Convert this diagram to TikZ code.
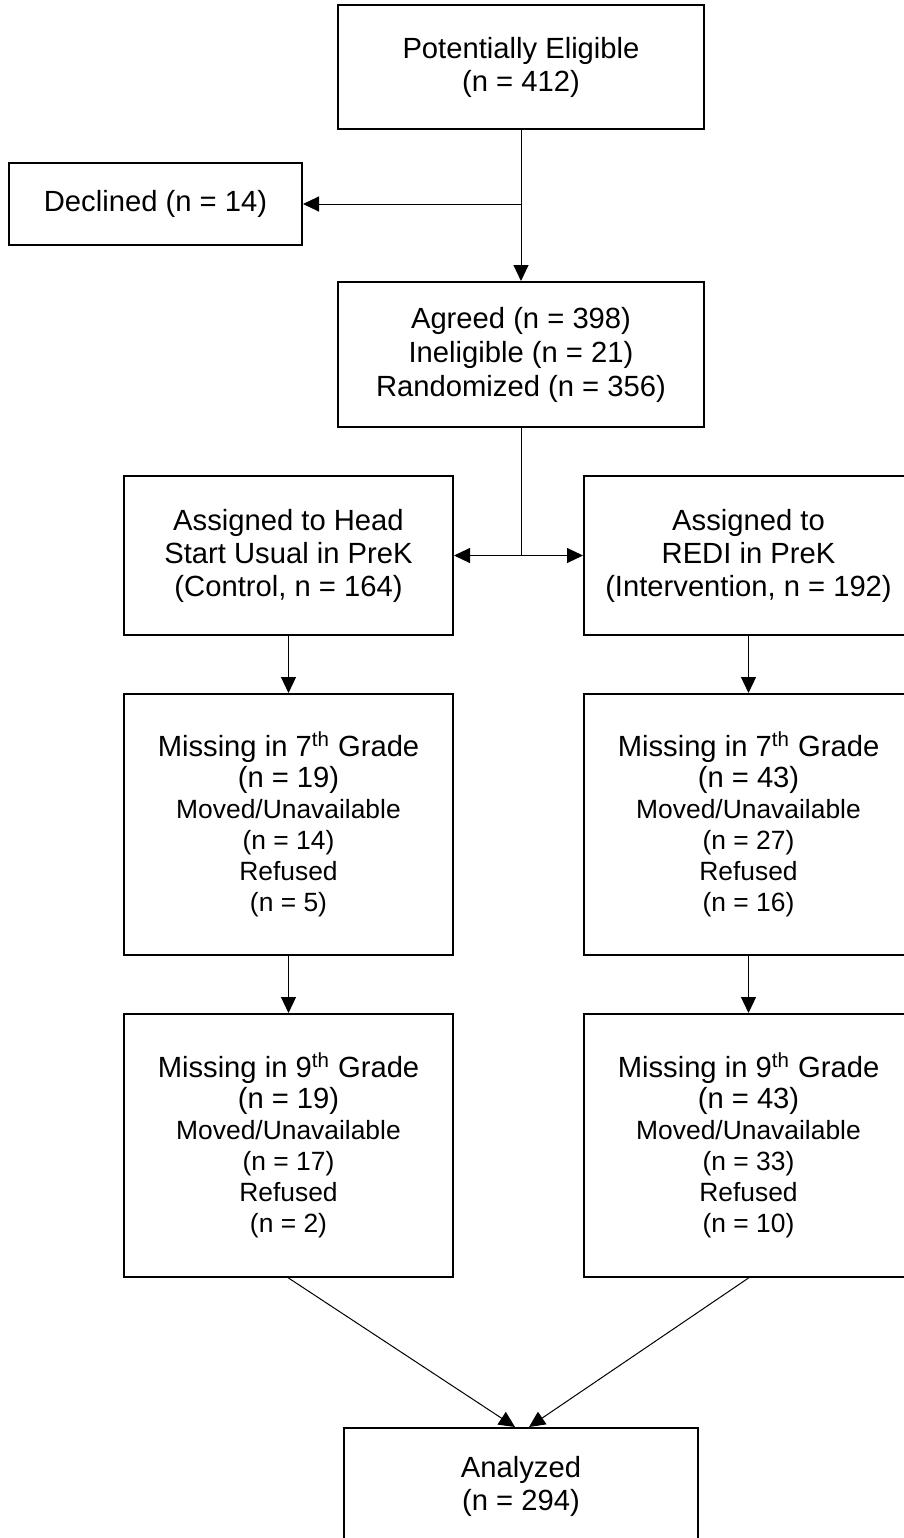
\documentclass[tikz,border=0pt]{standalone}
\usepackage{fontspec}
\setmainfont{Liberation Sans}
\usetikzlibrary{arrows.meta}
\newcommand{\bigtxt}{\fontsize{14.6}{16.5}\selectfont}
\newcommand{\smalltxt}{\fontsize{13.2}{15.5}\selectfont}
\tikzset{
    flowbox/.style={draw, line width=1pt, align=center, inner sep=0pt, font=\bigtxt},
    lossbox/.style={flowbox, minimum width=164.5pt, font=\fontsize{14.6}{15.5}\selectfont},
    link/.style={line width=0.5pt},
    flow/.style={link, -{Triangle[length=8pt, width=7.5pt]}}
}

\begin{document}
\begin{tikzpicture}[x=0.5pt, y=-0.5pt]
        \useasboundingbox (0,0) rectangle (904,1538);

        % enrollment
        \node[flowbox, minimum width=183pt, minimum height=62pt] (elig) at (521,67)
            {Potentially Eligible\\(n = 412)};
        \node[flowbox, minimum width=146.5pt, minimum height=41pt, font=\fontsize{14.6}{16.5}\selectfont] (declined) at (155.5,204)
            {Declined (n = 14)};
        \node[flowbox, minimum width=183pt, minimum height=72.5pt, font=\fontsize{14.6}{17}\selectfont] (agreed) at (521,354.5)
            {Agreed (n = 398)\\Ineligible (n = 21)\\Randomized (n = 356)};

        % allocation
        \node[flowbox, minimum width=164.5pt, minimum height=79.5pt] (ctrl) at (288.5,555.5)
            {Assigned to Head\\Start Usual in PreK\\(Control, n = 164)};
        \node[flowbox, minimum width=164.5pt, minimum height=79.5pt] (redi) at (748.5,555.5)
            {Assigned to\\REDI in PreK\\(Intervention, n = 192)};

        % follow-up
        \node[lossbox, minimum height=130.5pt] (ctrl7) at (288.5,824.5)
            {Missing in 7\textsuperscript{th} Grade\\(n = 19)\\{\smalltxt Moved/Unavailable}\\{\smalltxt (n = 14)}\\{\smalltxt Refused}\\{\smalltxt (n = 5)}};
        \node[lossbox, minimum height=130.5pt] (redi7) at (748.5,824.5)
            {Missing in 7\textsuperscript{th} Grade\\(n = 43)\\{\smalltxt Moved/Unavailable}\\{\smalltxt (n = 27)}\\{\smalltxt Refused}\\{\smalltxt (n = 16)}};
        \node[lossbox, minimum height=131.5pt] (ctrl9) at (288.5,1145.5)
            {Missing in 9\textsuperscript{th} Grade\\(n = 19)\\{\smalltxt Moved/Unavailable}\\{\smalltxt (n = 17)}\\{\smalltxt Refused}\\{\smalltxt (n = 2)}};
        \node[lossbox, minimum height=131.5pt] (redi9) at (748.5,1145.5)
            {Missing in 9\textsuperscript{th} Grade\\(n = 43)\\{\smalltxt Moved/Unavailable}\\{\smalltxt (n = 33)}\\{\smalltxt Refused}\\{\smalltxt (n = 10)}};

        % analysis
        \node[flowbox, minimum width=177pt, minimum height=58pt] (analyzed) at (521,1486)
            {Analyzed\\(n = 294)};

        % connectors
        \coordinate (split1) at (521,204);
        \coordinate (split2) at (521,555.5);
        \draw[flow] (elig) -- (agreed);
        \draw[flow] (split1) -- (declined);
        \draw[link] (agreed) -- (split2);
        \draw[flow] (split2) -- (ctrl);
        \draw[flow] (split2) -- (redi);
        \draw[flow] (ctrl) -- (ctrl7);
        \draw[flow] (redi) -- (redi7);
        \draw[flow] (ctrl7) -- (ctrl9);
        \draw[flow] (redi7) -- (redi9);
        \draw[flow] (ctrl9.south) -- ([xshift=-3pt]analyzed.north);
        \draw[flow] (redi9.south) -- ([xshift=4pt]analyzed.north);

    \end{tikzpicture}
\end{document}
